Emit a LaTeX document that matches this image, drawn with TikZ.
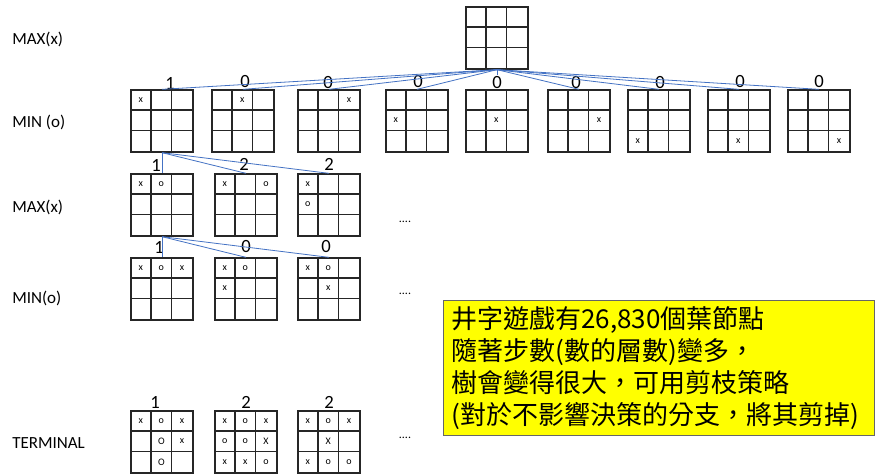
\documentclass[tikz,border=0pt]{standalone}
\usepackage{fontspec}
\setmainfont{Carlito}
\newfontfamily\cjk{Noto Sans CJK TC}
\usetikzlibrary{calc}
\definecolor{edgeblue}{HTML}{4472C4}
\definecolor{noteyellow}{HTML}{FFFF00}
\tikzset{
  board/.style={draw=black!85, line width=1pt, minimum size=62*0.75pt, inner sep=0pt},
  gridline/.style={draw=black!85, line width=0.9pt},
  cellmark/.style={inner sep=0pt, font=\fontsize{7.5pt}{8pt}\selectfont},
  val/.style={inner sep=0pt, font=\fontsize{14pt}{16pt}\selectfont},
  rowlabel/.style={inner sep=0pt, anchor=west, font=\fontsize{12.75pt}{14pt}\selectfont},
  more/.style={inner sep=0pt, anchor=south, font=\fontsize{9pt}{10pt}\selectfont},
  link/.style={draw=edgeblue, line width=0.6pt},
  note/.style={draw=black!60, line width=0.7pt, fill=noteyellow, inner xsep=8*0.75pt, inner ysep=0pt,
    minimum width=431*0.75pt, minimum height=135*0.75pt, text width=415*0.75pt, align=left,
    font=\cjk\fontsize{19.5pt}{23.8pt}\selectfont}
}
\newcommand\tttboard[3]{%
  \node[board] (#1) at ({#2+31},{#3+31}) {};
  \foreach \k in {1,2}{%
    \draw[gridline] ($(#1.north west)+({\k*62/3},0)$) -- ($(#1.south west)+({\k*62/3},0)$);
    \draw[gridline] ($(#1.north west)+(0,{\k*62/3})$) -- ($(#1.north east)+(0,{\k*62/3})$);
  }}
\newcommand\tttmark[4]{%
  \node[cellmark] (#1-#2#3) at ($(#1.north west)+({(#3-0.5)*62/3},{(#2-0.5)*62/3})$) {#4};}
\begin{document}
\begin{tikzpicture}[x=0.75pt,y=-0.75pt]
\useasboundingbox (0,0) rectangle (875,475);
\fill[white] (0,0) rectangle (875,475);

% row labels
\node[rowlabel] (r0) at (12,39) {MAX(x)};
\node[rowlabel] (r1) at (12,122) {MIN (o)};
\node[rowlabel] (r2) at (12,207) {MAX(x)};
\node[rowlabel] (r3) at (12,298) {MIN(o)};
\node[rowlabel] (r4) at (12,443) {TERMINAL};

% boards
\tttboard{t}{466}{7}
\tttboard{a1}{131}{90}
\tttboard{a2}{212}{90}
\tttboard{a3}{298}{90}
\tttboard{a4}{386}{90}
\tttboard{a5}{466}{90}
\tttboard{a6}{548}{90}
\tttboard{a7}{628}{90}
\tttboard{a8}{708}{90}
\tttboard{a9}{788}{90}
\tttboard{b1}{131}{174}
\tttboard{b2}{215}{174}
\tttboard{b3}{298}{174}
\tttboard{c1}{131}{258}
\tttboard{c2}{215}{258}
\tttboard{c3}{298}{258}
\tttboard{d1}{131}{411}
\tttboard{d2}{215}{411}
\tttboard{d3}{298}{411}

% values
\node[val] (va1) at (170,83) {1};
\node[val] (va2) at (245,82) {0};
\node[val] (va3) at (328,83) {0};
\node[val] (va4) at (418,82) {0};
\node[val] (va5) at (497,83) {0};
\node[val] (va6) at (576,83) {0};
\node[val] (va7) at (660,83) {0};
\node[val] (va8) at (740,82) {0};
\node[val] (va9) at (819,82) {0};
\node[val] (vb1) at (156,165) {1};
\node[val] (vb2) at (244,164) {2};
\node[val] (vb3) at (329,164) {2};
\node[val] (vc1) at (159,247) {1};
\node[val] (vc2) at (246,247) {0};
\node[val] (vc3) at (326,247) {0};
\node[val] (vd1) at (155,402) {1};
\node[val] (vd2) at (246,402) {2};
\node[val] (vd3) at (329,402) {2};

% connectors
\foreach \i in {1,2,3,4,6,7,8,9}{\draw[link] (t.south) -- (a\i.north);}
\draw[link] (t.south) -- ([yshift=1pt]va5.north);
\foreach \i in {1,2,3}{\draw[link] (a1.south) -- (b\i.north);}
\foreach \i in {1,2,3}{\draw[link] (b1.south) -- (c\i.north);}

% marks level 1
\tttmark{a1}{1}{1}{x}
\tttmark{a2}{1}{2}{x}
\tttmark{a3}{1}{3}{x}
\tttmark{a4}{2}{1}{x}
\tttmark{a5}{2}{2}{x}
\tttmark{a6}{2}{3}{x}
\tttmark{a7}{3}{1}{x}
\tttmark{a8}{3}{2}{x}
\tttmark{a9}{3}{3}{x}
% level 2
\tttmark{b1}{1}{1}{x}\tttmark{b1}{1}{2}{o}
\tttmark{b2}{1}{1}{x}\tttmark{b2}{1}{3}{o}
\tttmark{b3}{1}{1}{x}\tttmark{b3}{2}{1}{o}
% level 3
\tttmark{c1}{1}{1}{x}\tttmark{c1}{1}{2}{o}\tttmark{c1}{1}{3}{x}
\tttmark{c2}{1}{1}{x}\tttmark{c2}{1}{2}{o}\tttmark{c2}{2}{1}{x}
\tttmark{c3}{1}{1}{x}\tttmark{c3}{1}{2}{o}\tttmark{c3}{2}{2}{x}
% terminal
\tttmark{d1}{1}{1}{x}\tttmark{d1}{1}{2}{o}\tttmark{d1}{1}{3}{x}
\tttmark{d1}{2}{2}{O}\tttmark{d1}{2}{3}{x}
\tttmark{d1}{3}{2}{O}
\tttmark{d2}{1}{1}{x}\tttmark{d2}{1}{2}{o}\tttmark{d2}{1}{3}{x}
\tttmark{d2}{2}{1}{o}\tttmark{d2}{2}{2}{o}\tttmark{d2}{2}{3}{X}
\tttmark{d2}{3}{1}{x}\tttmark{d2}{3}{2}{x}\tttmark{d2}{3}{3}{o}
\tttmark{d3}{1}{1}{x}\tttmark{d3}{1}{2}{o}\tttmark{d3}{1}{3}{x}
\tttmark{d3}{2}{2}{X}
\tttmark{d3}{3}{1}{x}\tttmark{d3}{3}{2}{o}\tttmark{d3}{3}{3}{o}

% ellipses
\node[more] (m1) at (405,223) {....};
\node[more] (m2) at (405,295) {....};
\node[more] (m3) at (405,439) {....};

% note
\node[note, anchor=north west] (note) at (443,300)
  {井字遊戲有26,830個葉節點\\隨著步數(數的層數)變多，\\樹會變得很大，可用剪枝策略\\(對於不影響決策的分支，將其剪掉)};
\end{tikzpicture}
\end{document}
